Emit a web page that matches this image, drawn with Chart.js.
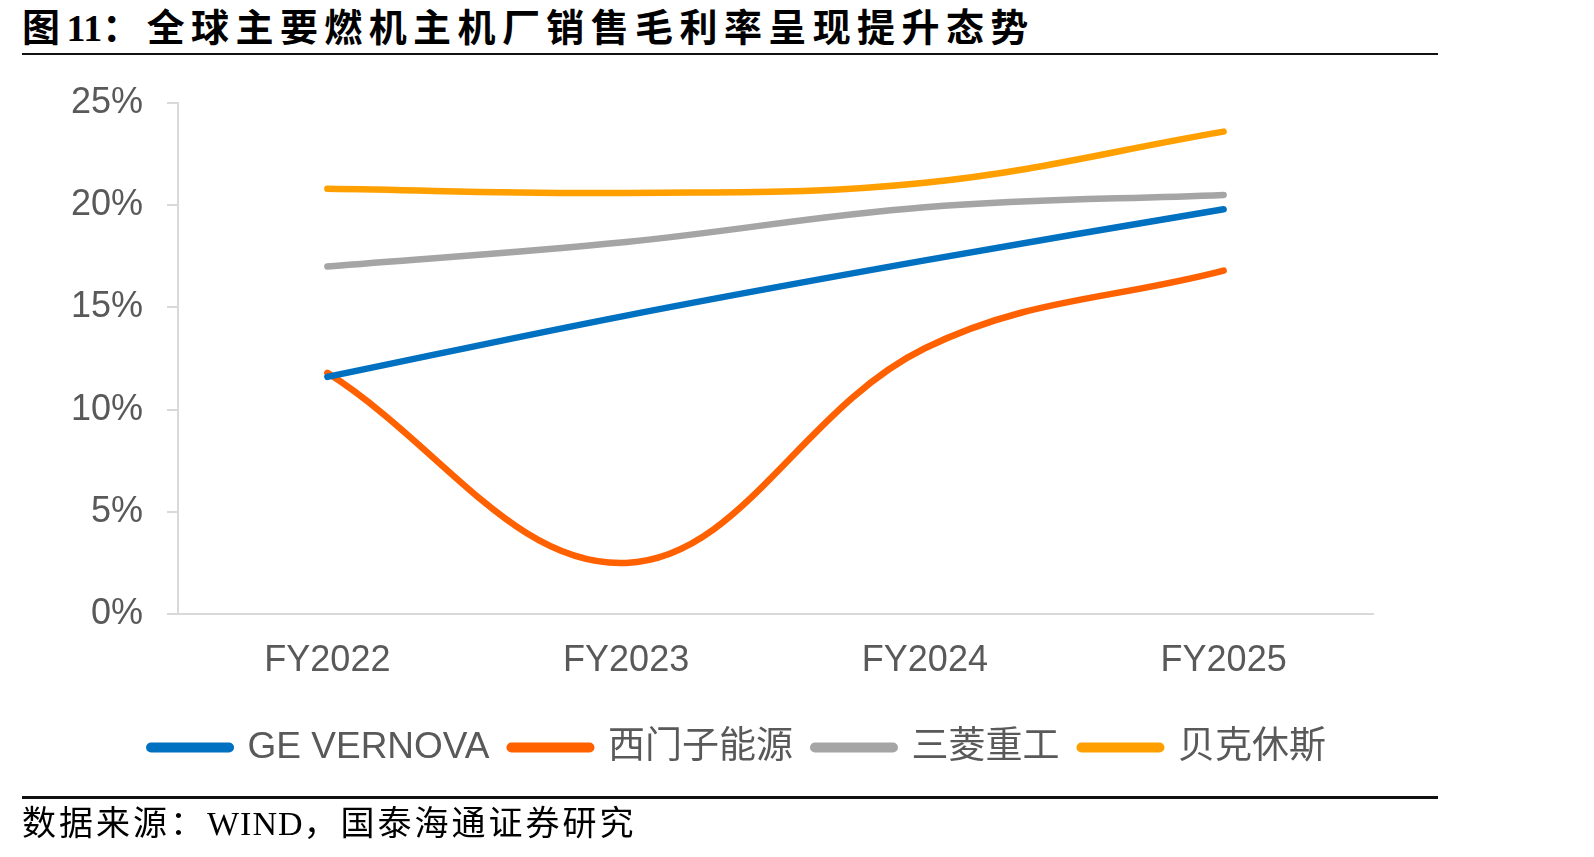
<!DOCTYPE html>
<html>
<head>
<meta charset="utf-8">
<script src="https://cdn.jsdelivr.net/npm/chart.js@4.4.1/dist/chart.umd.min.js"></script>
<style>
  html, body { margin: 0; padding: 0; background: #fff; }
  body { width: 1594px; height: 857px; position: relative; overflow: hidden; }
  #title {
    position: absolute; left: 22px; top: 2px; white-space: nowrap;
    font-family: "Noto Sans CJK SC", sans-serif; font-weight: bold;
    font-size: 38px; line-height: 46px; letter-spacing: 6.4px; color: #000;
  }
  #title .num { font-family: "Liberation Serif", serif; letter-spacing: 0; }
  .rule { position: absolute; left: 22px; width: 1416px; background: #111; }
  #source {
    position: absolute; left: 22px; top: 801px; white-space: nowrap;
    font-family: "Noto Sans CJK SC", sans-serif; font-size: 34px;
    line-height: 40px; letter-spacing: 3px; color: #000;
  }
  #source .lat { font-family: "Liberation Serif", serif; letter-spacing: 1px; }
  #wrap { position: absolute; left: 0; top: 0; width: 1594px; height: 857px; }
</style>
</head>
<body>
<div id="title">图<span class="num">11</span>：全球主要燃机主机厂销售毛利率呈现提升态势</div>
<div class="rule" style="top:53px;height:2px;"></div>
<div id="wrap"><canvas id="myChart" width="1594" height="857"></canvas></div>
<div class="rule" style="top:796px;height:3px;"></div>
<div id="source">数据来源：<span class="lat">WIND</span>，国泰海通证券研究</div>

<script>
var labels = ['FY2022', 'FY2023', 'FY2024', 'FY2025']
var geVernova = [11.6, 14.6, 17.3, 19.8]
var siemensEnergy = [11.8, 2.5, 13.0, 16.8]
var mitsubishi = [17.0, 18.2, 19.9, 20.5]
var bakerHughes = [20.8, 20.6, 21.1, 23.6]
var yTicks = [0, 5, 10, 15, 20, 25]

var fontFamily = "'Liberation Sans', 'Noto Sans CJK SC', sans-serif"
var axisColor = '#d9d9d9'
var textColor = '#595959'

function line(name, values, color) {
    return {
        label: name,
        data: values,
        borderColor: color,
        backgroundColor: color,
        borderWidth: 6.5,
        borderCapStyle: 'round',
        borderJoinStyle: 'round',
        pointRadius: 0,
        pointHoverRadius: 0,
        tension: 0.38,
        fill: false
    }
}

const data = {
    labels: labels,
    datasets: [
        line('GE VERNOVA', geVernova, '#0070C0'),
        line('西门子能源', siemensEnergy, '#FF6000'),
        line('三菱重工', mitsubishi, '#A5A5A5'),
        line('贝克休斯', bakerHughes, '#FFA000')
    ]
}

const config = {
    type: 'line',
    data: data,
    options: {
        responsive: false,
        animation: false,
        layout: { padding: { top: 103, left: 0, right: 117, bottom: 81 } },
        scales: {
            x: {
                offset: true,
                grid: { display: false },
                border: { display: true, color: axisColor, width: 2 },
                ticks: { color: textColor, padding: 17, font: { family: fontFamily, size: 36 } },
                afterFit: function (scale) { scale.height = 93 }
            },
            y: {
                min: 0,
                max: 25,
                afterBuildTicks: function (scale) {
                    scale.ticks = yTicks.map(function (v) { return { value: v } })
                },
                grid: { drawOnChartArea: false, drawTicks: true, tickLength: 11, color: axisColor, lineWidth: 2 },
                border: { display: true, color: axisColor, width: 2 },
                ticks: {
                    color: textColor, padding: 24,
                    font: { family: fontFamily, size: 36 },
                    callback: function (v) { return v + '%' }
                },
                afterFit: function (scale) { scale.width = 178 }
            },
            // empty right-hand spacer so the plot ends where the original does
            spacer: {
                position: 'right',
                grid: { display: false },
                border: { display: false },
                ticks: { display: false },
                afterFit: function (scale) { scale.width = 104 }
            }
        },
        plugins: {
            tooltip: { enabled: false },
            legend: {
                position: 'bottom',
                labels: {
                    color: textColor,
                    font: { family: fontFamily, size: 37 },
                    usePointStyle: true,
                    pointStyleWidth: 78,
                    padding: 22,
                    generateLabels: function (chart) {
                        var items = Chart.defaults.plugins.legend.labels.generateLabels(chart)
                        items.forEach(function (it) {
                            it.pointStyle = 'line'
                            it.lineWidth = 10
                            it.lineCap = 'round'
                        })
                        return items
                    }
                }
            }
        }
    }
}

const myChart = new Chart(document.getElementById('myChart'), config)
</script>
</body>
</html>
